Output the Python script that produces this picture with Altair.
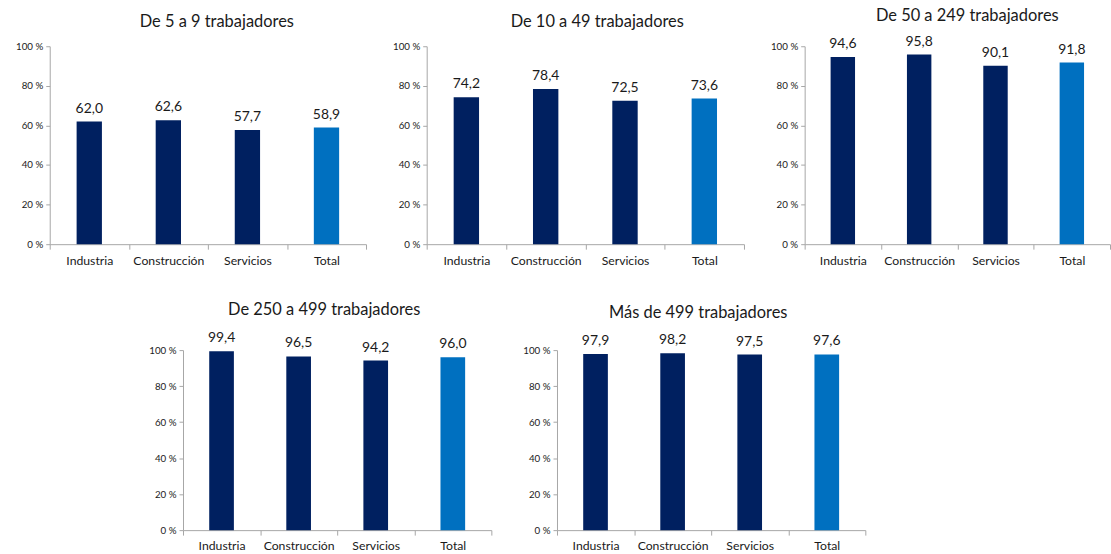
import altair as alt
import pandas as pd

# Share of companies (%) by sector, one panel per company size band
categories = ["Industria", "Construcción", "Servicios", "Total"]
panel_titles = [
    "De 5 a 9 trabajadores",
    "De 10 a 49 trabajadores",
    "De 50 a 249 trabajadores",
    "De 250 a 499 trabajadores",
    "Más de 499 trabajadores",
]
pct_5_9 = [62.0, 62.6, 57.7, 58.9]
pct_10_49 = [74.2, 78.4, 72.5, 73.6]
pct_50_249 = [94.6, 95.8, 90.1, 91.8]
pct_250_499 = [99.4, 96.5, 94.2, 96.0]
pct_500_plus = [97.9, 98.2, 97.5, 97.6]
y_ticks = [0, 20, 40, 60, 80, 100]

FONT = "Lato"
NAVY = "#002060"
BLUE = "#0070C0"
AXIS_GREY = "#A6A6A6"
TEXT = "#1a1a1a"


def panel(title, values, width, height, title_offset, title_dx, label_pad):
    df = pd.DataFrame({"sector": categories, "pct": values})
    base = alt.Chart(df).encode(
        x=alt.X(
            "sector:N",
            sort=categories,
            title=None,
            scale=alt.Scale(paddingInner=0, paddingOuter=0),
            axis=alt.Axis(
                labelAngle=0,
                tickBand="extent",
                tickSize=5,
                labelPadding=label_pad,
                domainColor=AXIS_GREY,
                tickColor=AXIS_GREY,
                labelFont=FONT,
                labelFontSize=12.3,
                labelColor=TEXT,
            ),
        ),
        y=alt.Y(
            "pct:Q",
            title=None,
            scale=alt.Scale(domain=[0, 100]),
            axis=alt.Axis(
                values=y_ticks,
                labelExpr="datum.value + ' %'",
                grid=False,
                tickSize=4,
                labelPadding=3,
                domainColor=AXIS_GREY,
                tickColor=AXIS_GREY,
                labelFont=FONT,
                labelFontSize=9.8,
                labelColor=TEXT,
            ),
        ),
    )
    bars = base.mark_bar(width=alt.RelativeBandSize(0.32)).encode(
        color=alt.condition(
            alt.datum.sector == "Total", alt.value(BLUE), alt.value(NAVY)
        )
    )
    labels = (
        base.transform_calculate(
            label="replace(format(datum.pct, '.1f'), '.', ',')"
        )
        .mark_text(baseline="bottom", dy=-6, fontSize=14, font=FONT, color=TEXT)
        .encode(text="label:N")
    )
    return alt.layer(bars, labels).properties(
        width=width,
        height=height,
        title=alt.TitleParams(
            title,
            font=FONT,
            fontSize=16.5,
            fontWeight="normal",
            color=TEXT,
            anchor="middle",
            offset=title_offset,
            dx=title_dx,
        ),
    )


p1 = panel(panel_titles[0], pct_5_9, 318, 199, 10.9, 9, 5)
p2 = panel(panel_titles[1], pct_10_49, 319, 199, 10.9, 12, 5)
p3 = panel(panel_titles[2], pct_50_249, 307, 199, 10.6, 10, 5)
p4 = panel(panel_titles[3], pct_250_499, 310, 181, 13, -13, 4)
p5 = panel(panel_titles[4], pct_500_plus, 310, 181, 12.1, -13, 4)

# empty cell that pushes the lower row to the right
spacer = (
    alt.Chart(pd.DataFrame({"a": [0]}))
    .mark_point(opacity=0)
    .encode(x=alt.value(0), y=alt.value(0))
    .properties(width=68.5, height=1)
)

top_row = alt.hconcat(p1, p2, p3, spacing=25)
bottom_row = alt.hconcat(spacer, p4, p5, spacing=30)

chart = (
    alt.vconcat(top_row, bottom_row, spacing=34.5)
    .properties(
        background="white",
        padding={"left": 15, "top": 6, "right": 0, "bottom": 0},
    )
    .configure_view(strokeWidth=0)
)

chart.save("out.html", embed_options={"renderer": "svg", "actions": False})
